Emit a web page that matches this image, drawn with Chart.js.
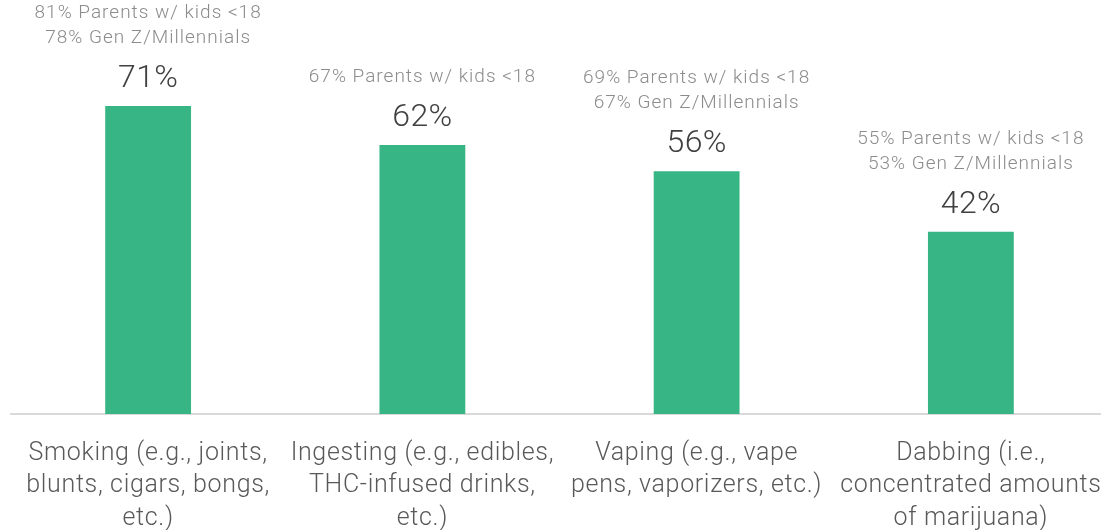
<!DOCTYPE html>
<html>
<head>
<meta charset="utf-8">
<script src="https://cdn.jsdelivr.net/npm/chart.js@4"></script>
<style>
  html, body { margin: 0; padding: 0; background: #fff; overflow: hidden; }
  #wrap { position: relative; width: 1108px; height: 530px; }
</style>
</head>
<body>
<div id="wrap"><canvas id="bars"></canvas></div>
<script>
// usage methods, share of respondents (%)
const categories = [
	['Smoking (e.g., joints,', 'blunts, cigars, bongs,', 'etc.)'],
	['Ingesting (e.g., edibles,', 'THC-infused drinks,', 'etc.)'],
	['Vaping (e.g., vape', 'pens, vaporizers, etc.)'],
	['Dabbing (i.e.,', 'concentrated amounts', 'of marijuana)']
];
const totalPct = [71, 62, 56, 42];
const parentsPct = [81, 67, 69, 55];
const genZPct = [78, null, 67, 53];

const FONT = 'Roboto, "Open Sans", sans-serif';

// slightly wider letters for the axis labels
const spacing = {
	id: 'spacing',
	beforeDraw(chart) {
		chart.ctx.letterSpacing = '0.65px';
	}
};

// labels above each bar: total, then the two sub-groups
const topLabels = {
	id: 'topLabels',
	afterDatasetsDraw(chart) {
		const ctx = chart.ctx;
		const meta = chart.getDatasetMeta(0);
		ctx.save();
		ctx.textAlign = 'center';
		ctx.textBaseline = 'middle';
		meta.data.forEach((bar, i) => {
			const vy = bar.y - 27;
			ctx.fillStyle = '#404040';
			ctx.font = '300 32px ' + FONT;
			ctx.letterSpacing = '0.3px';
			ctx.fillText(totalPct[i] + '%', bar.x, vy);

			const lines = [parentsPct[i] + '% Parents w/ kids <18'];
			if (genZPct[i] !== null) lines.push(genZPct[i] + '% Gen Z/Millennials');
			ctx.fillStyle = '#8c8c8c';
			ctx.font = '300 19px ' + FONT;
			ctx.letterSpacing = '1px';
			let ly = vy - 41;
			for (let j = lines.length - 1; j >= 0; j--) {
				ctx.fillText(lines[j], bar.x, ly);
				ly -= 25;
			}
		});
		ctx.restore();
	}
};

const canvas = document.getElementById('bars');
const ctx = canvas.getContext('2d');

new Chart(ctx, {
	type: 'bar',
	data: {
		labels: categories,
		datasets: [{
			data: totalPct,
			backgroundColor: '#38b584',
			barPercentage: 0.313,
			categoryPercentage: 1
		}]
	},
	options: {
		responsive: true,
		maintainAspectRatio: false,
		animation: false,
		layout: { padding: { left: 11, right: 0, top: 2, bottom: 0 } },
		plugins: {
			legend: { display: false },
			tooltip: { enabled: false }
		},
		scales: {
			x: {
				grid: { display: false },
				border: { color: '#d9d9d9', width: 2 },
				afterFit(scale) {
					scale.height = 116;
					scale.paddingLeft = 0;
					scale.paddingRight = 0;
				},
				ticks: {
					color: '#595959',
					padding: 15,
					maxRotation: 0,
					autoSkip: false,
					font: { family: FONT, size: 25, weight: 300, lineHeight: 1.3 }
				}
			},
			y: {
				display: false,
				min: 0,
				max: 95
			}
		}
	},
	plugins: [spacing, topLabels]
});
</script>
</body>
</html>
